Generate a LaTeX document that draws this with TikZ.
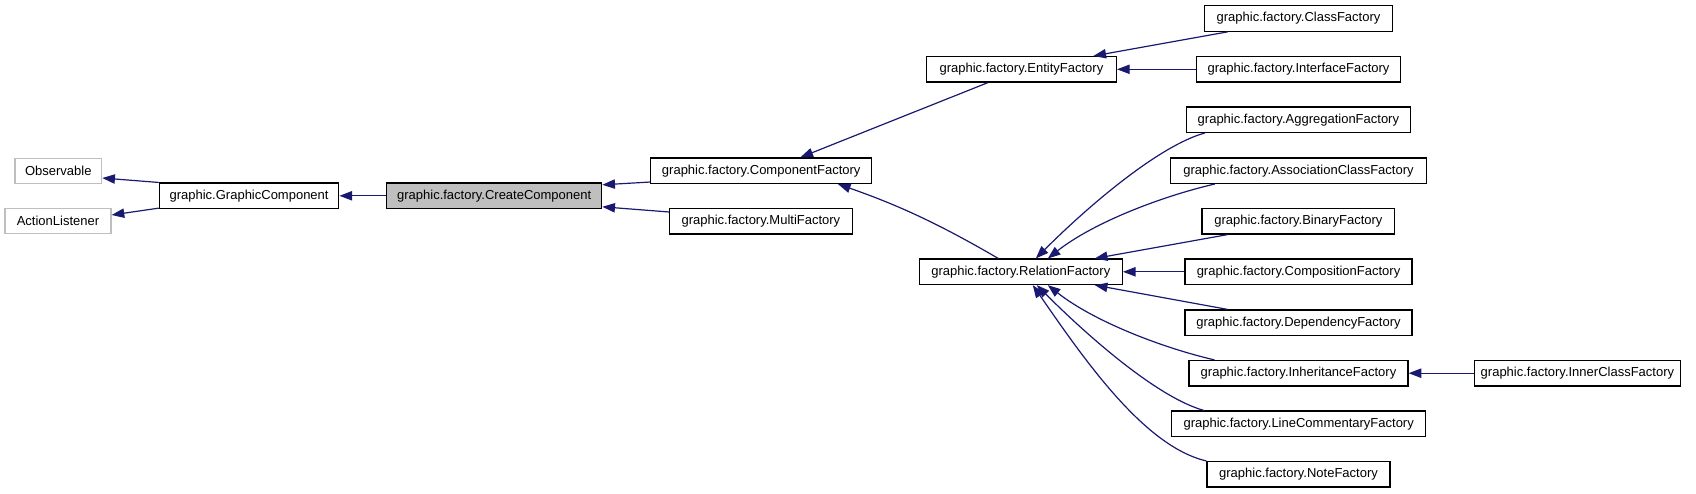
\documentclass[tikz,border=0pt]{standalone}
\usepackage{fontspec}
\setmainfont{Liberation Sans}
\usetikzlibrary{arrows.meta,calc}
\definecolor{edgeblue}{RGB}{25,25,112}
\definecolor{boxgray}{RGB}{191,191,191}
\tikzset{
  cls/.style={draw=black, line width=0.9pt, inner sep=0pt, minimum height=19.1pt,
              font=\fontsize{9.75pt}{11pt}\selectfont, fill=white},
  ext/.style={cls, draw=boxgray},
  cur/.style={cls, fill=boxgray},
  bw/.style={minimum width=#1*0.75pt},
  edge/.style={draw=edgeblue, line width=0.9pt, -{Triangle[length=9.5pt,width=7pt]}, fill=none},
}
\begin{document}
\begin{tikzpicture}[x=0.75pt,y=-0.75pt]
\useasboundingbox (0,0) rectangle (1696,493);
% nodes
\node[ext,bw=86.7]  (obs) at (58.3,171)    {Observable};
\node[ext,bw=106]   (al)  at (58,221)      {ActionListener};
\node[cls,bw=179.5] (gc)  at (249.1,195.8) {graphic.GraphicComponent};
\node[cur,bw=215]   (cc)  at (494.2,195.8) {graphic.factory.CreateComponent};
\node[cls,bw=221]   (cf)  at (761.2,170.7) {graphic.factory.ComponentFactory};
\node[cls,bw=183]   (mf)  at (760.9,221.3) {graphic.factory.MultiFactory};
\node[cls,bw=190]   (ef)  at (1021.4,69.3) {graphic.factory.EntityFactory};
\node[cls,bw=188.4] (clf) at (1298.5,18.5) {graphic.factory.ClassFactory};
\node[cls,bw=204.4] (inf) at (1298.5,69.3) {graphic.factory.InterfaceFactory};
\node[cls,bw=224.2] (agf) at (1298.4,119.7) {graphic.factory.AggregationFactory};
\node[cls,bw=256.4] (acf) at (1298.5,170.7) {graphic.factory.AssociationClassFactory};
\node[cls,bw=192.7] (bf)  at (1298.4,221.3) {graphic.factory.BinaryFactory};
\node[cls,bw=203]   (rf)  at (1020.8,271.8) {graphic.factory.RelationFactory};
\node[cls,bw=227]   (cof) at (1298.5,271.8) {graphic.factory.CompositionFactory};
\node[cls,bw=227]   (df)  at (1298.5,322.7) {graphic.factory.DependencyFactory};
\node[cls,bw=219]   (ihf) at (1298.5,373.2) {graphic.factory.InheritanceFactory};
\node[cls,bw=205.8] (icf) at (1577.4,373.2) {graphic.factory.InnerClassFactory};
\node[cls,bw=254.2] (lcf) at (1298.7,423.8) {graphic.factory.LineCommentaryFactory};
\node[cls,bw=183]   (nf)  at (1298.5,474.3) {graphic.factory.NoteFactory};
% edges
\draw[edge] (gc.north west) -- ($(obs.east)+(0,7)$);
\draw[edge] ($(gc.south west)+(0,-1)$) -- ($(al.east)+(0,-6)$);
\draw[edge] (cc.west) -- (gc.east);
\draw[edge] ($(cf.south west)+(0,-2)$) -- ($(cc.east)+(0,-11)$);
\draw[edge] ($(mf.north west)+(0,4)$) -- ($(cc.east)+(0,11)$);
\draw[edge] ($(ef.south)+(-33.5,0)$) -- ($(cf.north)+(39.2,0)$);
\draw[edge] ($(clf.south west)+(24,0)$) -- ($(ef.north)+(72,0)$);
\draw[edge] (inf.west) -- (ef.east);
\draw[edge] ($(rf.north)+(-22.5,0)$) .. controls +(-60,-35) and +(60,21) .. ($(cf.south)+(76.7,0)$);
\draw[edge] ($(agf.south west)+(19,0)$) .. controls +(-45,12.4) and +(54,-54) .. ($(rf.north)+(15,0)$);
\draw[edge] ($(acf.south west)+(45,0)$) .. controls +(-50,11.5) and +(47,-37) .. ($(rf.north)+(27,0)$);
\draw[edge] ($(bf.south west)+(26,0)$) -- ($(rf.north)+(74,0)$);
\draw[edge] (cof.west) -- (rf.east);
\draw[edge] ($(df.north west)+(43,0)$) -- ($(rf.south)+(74,0)$);
\draw[edge] ($(ihf.north west)+(26,0)$) .. controls +(-50,-11.5) and +(47,37) .. ($(rf.south)+(27,0)$);
\draw[edge] ($(lcf.north west)+(33,0)$) .. controls +(-45,-12.4) and +(54,54) .. ($(rf.south)+(16,0)$);
\draw[edge] (nf.north west) .. controls +(-62,-14.5) and +(52.2,75.4) .. ($(rf.south)+(12,0)$);
\draw[edge] (icf.west) -- (ihf.east);
\end{tikzpicture}
\end{document}
